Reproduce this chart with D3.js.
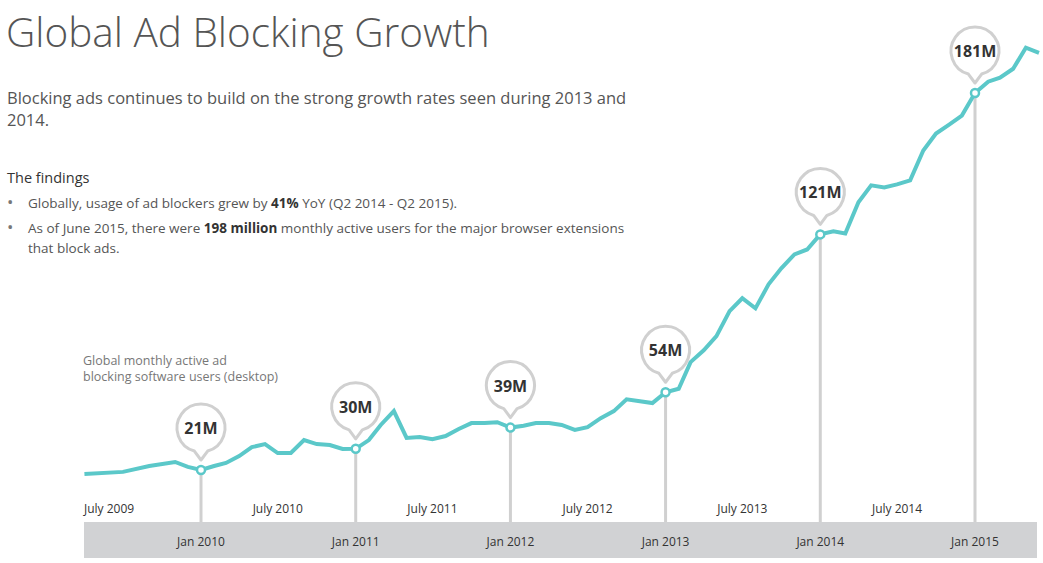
<!DOCTYPE html>
<html><head><meta charset="utf-8">
<script src="https://cdn.jsdelivr.net/npm/d3@7"></script>
<style>body{margin:0;background:#fff}svg{display:block;font-family:"Open Sans",sans-serif}</style>
</head><body><svg id="c" width="1043" height="563"></svg>
<script>
const months = ["2009-04","2009-07","2009-09","2009-11","2009-12","2010-01","2010-02","2010-03","2010-04","2010-05","2010-06","2010-07","2010-08","2010-09","2010-10","2010-11","2010-12","2011-01","2011-02","2011-03","2011-04","2011-05","2011-06","2011-07","2011-08","2011-09","2011-10","2011-11","2011-12","2012-01","2012-02","2012-03","2012-04","2012-05","2012-06","2012-07","2012-08","2012-09","2012-10","2012-12","2013-01","2013-02","2013-03","2013-04","2013-05","2013-06","2013-07","2013-08","2013-09","2013-10","2013-11","2013-12","2014-01","2014-02","2014-03","2014-04","2014-05","2014-06","2014-07","2014-08","2014-09","2014-10","2014-11","2014-12","2015-01","2015-02","2015-03","2015-04","2015-05","2015-06"];
const users = [19.3,20.2,22.7,24.4,22.3,21,22.7,24.0,26.9,30.7,32.0,28.2,28.2,33.7,32.0,31.6,29.9,30,33.7,40.1,46.0,34.6,35.0,34.1,35.4,38.4,40.9,40.9,41.3,39,39.8,40.9,40.9,40.1,38,39.2,43,46,51,49.4,54,55.5,66.8,71.8,77.8,88.4,93.9,89.6,99.8,106.6,112.5,114.6,121,122.3,121.4,134.6,141.8,140.9,142.2,143.9,156.6,163.8,167.6,171.4,181,185.8,187.5,191.3,200.2,198];
const pinMonths = ["2010-01","2011-01","2012-01","2013-01","2014-01","2015-01"];
const pinLabels = ["21M","30M","39M","54M","121M","181M"];
const julyTicks = ["2009-07","2010-07","2011-07","2012-07","2013-07","2014-07"];
const julyLabels = ["July 2009","July 2010","July 2011","July 2012","July 2013","July 2014"];
const janLabels = ["Jan 2010","Jan 2011","Jan 2012","Jan 2013","Jan 2014","Jan 2015"];

const svg = d3.select("#c");
const pm = d3.timeParse("%Y-%m");
const x = d3.scaleTime().domain([pm("2010-01"), pm("2015-01")]).range([201, 975]);
const y = d3.scaleLinear().domain([21, 181]).range([470, 93]);
const data = months.map((m,i)=>({d:pm(m), v:users[i]}));

svg.append("text").attr("x",6).attr("y",47).attr("font-size",40.5).attr("font-weight",300).attr("fill","#555").text("Global Ad Blocking Growth");
const sub = ["Blocking ads continues to build on the strong growth rates seen during 2013 and","2014."];
sub.forEach((s,i)=>svg.append("text").attr("x",7).attr("y",104+i*22).attr("font-size",16.5).attr("fill","#555").text(s));
svg.append("text").attr("x",7).attr("y",183).attr("font-size",14.5).attr("fill","#333").text("The findings");
const b1 = svg.append("text").attr("x",28).attr("y",208).attr("font-size",13.5).attr("fill","#555");
b1.append("tspan").text("Globally, usage of ad blockers grew by ");
b1.append("tspan").attr("font-weight",700).attr("fill","#333").text("41%");
b1.append("tspan").text(" YoY (Q2 2014 - Q2 2015).");
const b2 = svg.append("text").attr("x",28).attr("y",233).attr("font-size",13.5).attr("fill","#555");
b2.append("tspan").text("As of June 2015, there were ");
b2.append("tspan").attr("font-weight",700).attr("fill","#333").text("198 million");
b2.append("tspan").text(" monthly active users for the major browser extensions");
svg.append("text").attr("x",28).attr("y",253).attr("font-size",13.5).attr("fill","#555").text("that block ads.");
[208,233].forEach(yy=>svg.append("text").attr("x",7).attr("y",yy).attr("font-size",17).attr("fill","#777").text("•"));
svg.append("text").attr("x",83).attr("y",365).attr("font-size",12.5).attr("fill","#777").text("Global monthly active ad");
svg.append("text").attr("x",83).attr("y",381).attr("font-size",12.5).attr("fill","#777").text("blocking software users (desktop)");

svg.append("rect").attr("x",84).attr("y",522).attr("width",953).attr("height",36).attr("fill","#d1d2d4");

const pins = pinMonths.map((m,i)=>({d:pm(m), v:users[months.indexOf(m)], label:pinLabels[i], jan:janLabels[i]}));
const g = svg.selectAll("g.pin").data(pins).enter().append("g");
g.append("line").attr("x1",d=>x(d.d)).attr("x2",d=>x(d.d)).attr("y1",d=>y(d.v)).attr("y2",522).attr("stroke","#d0d0d0").attr("stroke-width",3);
g.append("path").attr("d",d=>{
  const cx=x(d.d), cy=y(d.v)-42, r=24;
  const a=Math.PI/2, da=0.28;
  const p1=[cx+r*Math.cos(a-da), cy+r*Math.sin(a-da)], p2=[cx+r*Math.cos(a+da), cy+r*Math.sin(a+da)];
  return `M${p2[0]},${p2[1]} A${r},${r} 0 1 1 ${p1[0]},${p1[1]} L${cx},${cy+r+8} Z`;
}).attr("fill","#fff").attr("stroke","#d0d0d0").attr("stroke-width",3).attr("stroke-linejoin","round");
g.append("text").attr("x",d=>x(d.d)).attr("y",d=>y(d.v)-36).attr("text-anchor","middle").attr("font-size",16).attr("font-weight",700).attr("fill","#333").text(d=>d.label);
g.append("text").attr("x",d=>x(d.d)).attr("y",546).attr("text-anchor","middle").attr("font-size",12).attr("fill","#333").text(d=>d.jan);

svg.selectAll("text.jul").data(julyTicks).enter().append("text").attr("x",(d,i)=>i===0?84:x(pm(d))).attr("y",513).attr("text-anchor",(d,i)=>i===0?"start":"middle").attr("font-size",12).attr("fill","#333").text((d,i)=>julyLabels[i]);

svg.append("path").datum(data).attr("d",d3.line().x(d=>x(d.d)).y(d=>y(d.v))).attr("fill","none").attr("stroke","#5bc8c9").attr("stroke-width",4).attr("stroke-linejoin","miter");
svg.selectAll("circle.m").data(pins).enter().append("circle").attr("cx",d=>x(d.d)).attr("cy",d=>y(d.v)).attr("r",4).attr("fill","#fff").attr("stroke","#5bc8c9").attr("stroke-width",2.5);
</script></body></html>
